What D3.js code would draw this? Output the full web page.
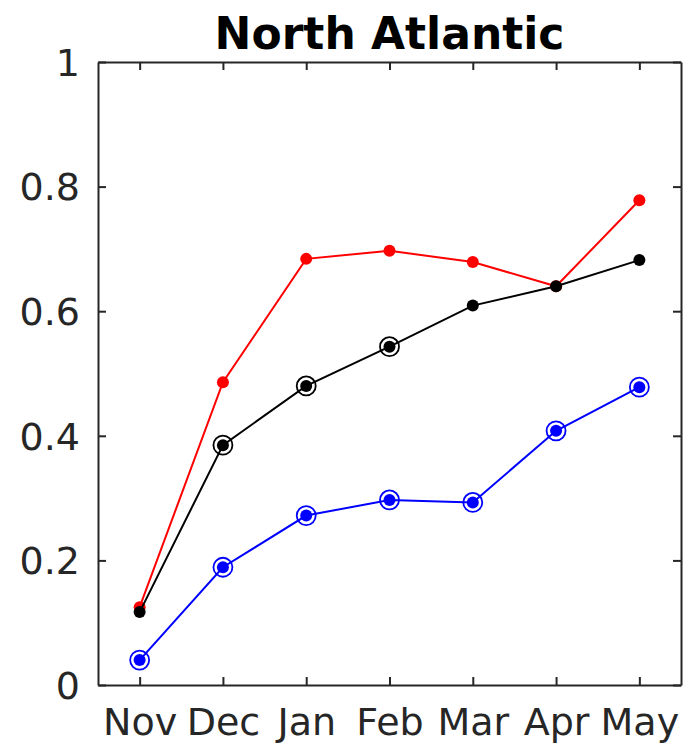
<!DOCTYPE html>
<meta charset="utf-8">
<script src="https://d3js.org/d3.v7.min.js"></script>
<style>
  body { margin: 0; background: #fff; }
  text { font-family: "DejaVu Sans", sans-serif; }
</style>
<div id="chart"></div>
<script>
    // chart data
    var months = ["Nov", "Dec", "Jan", "Feb", "Mar", "Apr", "May"];
    var redValues   = [0.125, 0.486, 0.684, 0.697, 0.679, 0.640, 0.778];
    var blackValues = [0.117, 0.385, 0.480, 0.543, 0.609, 0.640, 0.682];
    var blueValues  = [0.040, 0.189, 0.272, 0.297, 0.293, 0.408, 0.478];
    // which points get an open ring around them
    var blackRings = [false, true, true, true, false, false, false];
    var blueRings  = [true, true, true, true, true, true, true];
    var yTicks = [0, 0.2, 0.4, 0.6, 0.8, 1];

    var margin = {top: 62, right: 3, bottom: 61, left: 98},
        width = 684 - margin.left - margin.right,
        height = 746 - margin.top - margin.bottom;

    var x = d3.scaleLinear().domain([0.5, months.length + 0.5]).range([0, width]);
    var y = d3.scaleLinear().domain([0, 1]).range([height, 0]);

    var svg = d3.select("#chart").append("svg")
        .attr("width", 684)
        .attr("height", 746)
        .append("g")
        .attr("transform", "translate(" + margin.left + "," + margin.top + ")");

    var axisColor = "#262626";
    var idx = months.map(function(d, i) { return i + 1; });

    // bottom axis with labels
    var xAxis = svg.append("g")
        .attr("transform", "translate(0," + height + ")")
        .call(d3.axisBottom(x).tickValues(idx).tickFormat(function(d) { return months[d - 1]; })
            .tickSizeInner(-8).tickSizeOuter(0).tickPadding(23));
    // top axis, ticks only
    var xTop = svg.append("g")
        .call(d3.axisTop(x).tickValues(idx).tickFormat("").tickSizeInner(-8).tickSizeOuter(0));
    // left axis
    var yAxis = svg.append("g")
        .call(d3.axisLeft(y).tickValues(yTicks).tickFormat(function(d) { return d === 0 || d === 1 ? d : d.toFixed(1); })
            .tickSizeInner(-8).tickSizeOuter(0).tickPadding(18));
    // right axis, ticks only
    var yRight = svg.append("g")
        .attr("transform", "translate(" + width + ",0)")
        .call(d3.axisRight(y).tickValues(yTicks).tickFormat("").tickSizeInner(-8).tickSizeOuter(0));

    [xAxis, xTop, yAxis, yRight].forEach(function(g) {
        g.select(".domain").attr("stroke", axisColor).attr("stroke-width", 2);
        g.selectAll(".tick line").attr("stroke", axisColor).attr("stroke-width", 2);
        g.selectAll(".tick text").attr("fill", axisColor).style("font-size", "38px")
            .style("font-family", "DejaVu Sans, sans-serif");
    });
    xAxis.selectAll(".tick text").attr("dy", "0.71em");
    yAxis.selectAll(".tick text").attr("dy", "0.35em");

    var line = d3.line()
        .x(function(d, i) { return x(i + 1); })
        .y(function(d) { return y(d); });

    function drawSeries(values, color, rings) {
        svg.append("path")
            .datum(values)
            .attr("fill", "none")
            .attr("stroke", color)
            .attr("stroke-width", 2)
            .attr("d", line);
        if (rings) {
            svg.selectAll(null)
                .data(values.map(function(v, i) { return {v: v, i: i}; }).filter(function(d) { return rings[d.i]; }))
                .enter().append("circle")
                .attr("cx", function(d) { return x(d.i + 1); })
                .attr("cy", function(d) { return y(d.v); })
                .attr("r", 9.5)
                .attr("fill", "none")
                .attr("stroke", color)
                .attr("stroke-width", 1.8);
        }
        svg.selectAll(null)
            .data(values)
            .enter().append("circle")
            .attr("cx", function(d, i) { return x(i + 1); })
            .attr("cy", function(d) { return y(d); })
            .attr("r", 6)
            .attr("fill", color);
    }

    drawSeries(redValues, "#ff0000", null);
    drawSeries(blackValues, "#000000", blackRings);
    drawSeries(blueValues, "#0000ff", blueRings);

    // title
    svg.append("text")
        .attr("x", width / 2)
        .attr("y", -13)
        .attr("text-anchor", "middle")
        .style("font-size", "44px")
        .style("font-weight", "bold")
        .text("North Atlantic");
</script>
